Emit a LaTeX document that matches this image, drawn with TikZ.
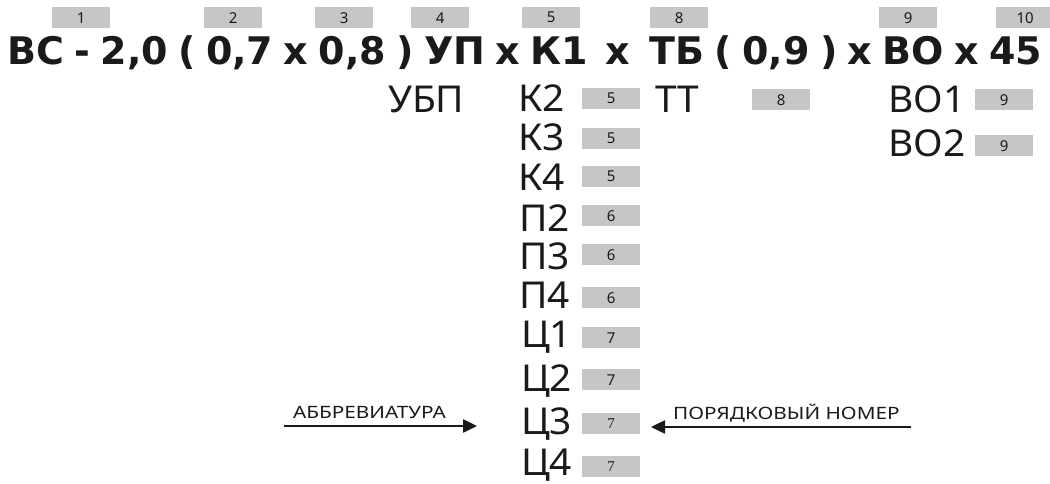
\documentclass[tikz,border=0pt]{standalone}
\usepackage{fontspec}
\setmainfont{Noto Sans}
\newfontfamily\titlefont{DejaVu Sans}
\newfontfamily\rowfont{Noto Sans}[FakeStretch=1.05]
\newfontfamily\lblfont{Noto Sans}[FakeStretch=1.22]
\newfontfamily\serifdig{Liberation Serif}
\usetikzlibrary{arrows.meta}
\definecolor{ink}{HTML}{1A1A1A}
\definecolor{boxgray}{HTML}{C6C6C6}
\def\tg{10pt}
\begin{document}
\begin{tikzpicture}[x=1pt,y=-1pt,
  ttok/.style={anchor=base west, inner sep=0pt, font=\titlefont\bfseries\fontsize{38}{38}\selectfont, text=ink},
  rtok/.style={anchor=base west, inner sep=0pt, font=\rowfont\fontsize{37}{37}\selectfont, text=ink},
  numbox/.style={anchor=north west, fill=boxgray, minimum width=58pt, minimum height=21pt, inner sep=0pt, font=\fontsize{15}{15}\selectfont, text=ink},
  lbl/.style={anchor=base west, inner sep=0pt, font=\lblfont\fontsize{17}{17}\selectfont, text=ink},
  arr/.style={line width=2.5pt, draw=ink, -{Triangle[length=14pt,width=13pt]}}
]
\useasboundingbox (0,0) rectangle (1050,484);
% top number boxes
\node[numbox] (n1) at (52,7) {1};
\node[numbox] (n2) at (204,7) {2};
\node[numbox] (n3) at (315,7) {3};
\node[numbox] (n4) at (411,7) {4};
\node[numbox] (n5) at (522,7) {5};
\node[numbox] (n8) at (650,7) {8};
\node[numbox] (n9) at (879,7) {9};
\node[numbox] (n10) at (996,7) {10};
% title tokens
\node[ttok] (t1) at (7,65) {ВС};
\node[ttok] (t2) at ([xshift=\tg]t1.base east) {-};
\node[ttok] (t3) at ([xshift=\tg]t2.base east) {2,0};
\node[ttok] (t4) at ([xshift=\tg]t3.base east) {(};
\node[ttok] (t5) at ([xshift=\tg]t4.base east) {0,7};
\node[ttok] (t6) at ([xshift=\tg]t5.base east) {х};
\node[ttok] (t7) at ([xshift=\tg]t6.base east) {0,8};
\node[ttok] (t8) at ([xshift=\tg]t7.base east) {)};
\node[ttok] (t9) at ([xshift=\tg]t8.base east) {УП};
\node[ttok] (t10) at ([xshift=\tg]t9.base east) {х};
\node[ttok] (t11) at ([xshift=\tg]t10.base east) {К1};
\node[ttok] (t12) at ([xshift=17pt]t11.base east) {х};
\node[ttok] (t13) at ([xshift=19pt]t12.base east) {ТБ};
\node[ttok] (t14) at ([xshift=\tg]t13.base east) {(};
\node[ttok] (t15) at ([xshift=\tg]t14.base east) {0,9};
\node[ttok] (t16) at ([xshift=\tg]t15.base east) {)};
\node[ttok] (t17) at ([xshift=\tg]t16.base east) {х};
\node[ttok] (t18) at ([xshift=\tg]t17.base east) {ВО};
\node[ttok] (t19) at ([xshift=\tg]t18.base east) {х};
\node[ttok] (t20) at ([xshift=\tg]t19.base east) {45};
% second row
\node[rtok] (ubp) at (388,113) {УБП};
\node[rtok] (tt) at (655,113) {ТТ};
\node[numbox] (b8) at (752,89) {8};
\node[rtok] (vo1) at (888,113) {ВО1};
\node[numbox] (b9a) at (975,89) {9};
\node[rtok] (vo2) at (888,157) {ВО2};
\node[numbox] (b9b) at (975,135) {9};
% column
\node[rtok] (k2) at (518,112) {К2};
\node[numbox] (bk2) at (582,88) {5};
\node[rtok] (k3) at (518,151) {К3};
\node[numbox] (bk3) at (582,128) {5};
\node[rtok] (k4) at (518,190) {К4};
\node[numbox] (bk4) at (582,166) {5};
\node[rtok] (p2) at (519,231) {П2};
\node[numbox] (bp2) at (582,205) {6};
\node[rtok] (p3) at (519,269) {П3};
\node[numbox] (bp3) at (582,244) {6};
\node[rtok] (p4) at (519,308) {П4};
\node[numbox] (bp4) at (582,287) {6};
\node[rtok] (c1) at (521,347) {Ц1};
\node[numbox] (bc1) at (582,327) {7};
\node[rtok] (c2) at (521,391) {Ц2};
\node[numbox] (bc2) at (582,369) {7};
\node[rtok] (c3) at (521,434) {Ц3};
\node[numbox] (bc3) at (582,413) {\serifdig 7};
\node[rtok] (c4) at (521,475) {Ц4};
\node[numbox] (bc4) at (582,456) {\serifdig 7};
% labels and arrows
\node[lbl] (abbr) at (293,418) {АББРЕВИАТУРА};
\node[lbl] (ord) at (673,419) {ПОРЯДКОВЫЙ НОМЕР};
\coordinate (a1s) at (284,426);
\coordinate (a1e) at (477,426);
\coordinate (a2s) at (911,427);
\coordinate (a2e) at (651,427);
\draw[arr] (a1s) -- (a1e);
\draw[arr] (a2s) -- (a2e);
\end{tikzpicture}
\end{document}
